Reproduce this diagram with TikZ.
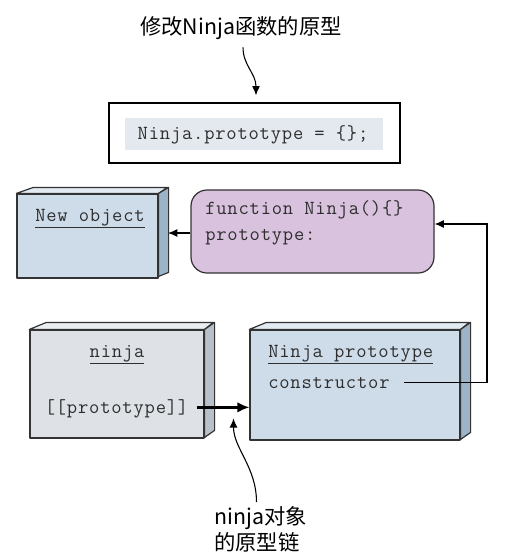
\documentclass[tikz,border=0pt]{standalone}
\usepackage{fontspec}
\setmonofont{Latin Modern Mono}[LetterSpace=4.0]
\newfontfamily\cjk{Noto Sans CJK SC}
\usetikzlibrary{arrows.meta,calc}
\definecolor{ink}{HTML}{333333}
\definecolor{txt}{HTML}{2E2E2E}
\definecolor{bluefront}{HTML}{CEDCE9}
\definecolor{bluetop}{HTML}{E2EAF2}
\definecolor{blueside}{HTML}{9DB3C8}
\definecolor{grayfront}{HTML}{DEE2E6}
\definecolor{graytop}{HTML}{EBEEF1}
\definecolor{grayside}{HTML}{B8C1CA}
\definecolor{purple}{HTML}{D9C2DE}
\definecolor{codebg}{HTML}{E4E9EF}
\tikzset{
  face/.style={draw=ink, line width=0.9pt, line join=round},
  front/.style={face, inner sep=0pt, minimum width=#1},
  mono/.style={font=\ttfamily\fontsize{15}{18}\selectfont, text=txt, inner sep=0pt},
  cjktext/.style={font=\cjk\fontsize{16}{20}\selectfont, text=black, inner sep=0pt},
  conn/.style={draw=black, line width=0.8pt, -{Latex[length=7pt,width=6pt]}},
}
\begin{document}
\begin{tikzpicture}[x=0.75pt,y=-0.75pt]
\useasboundingbox (0,0) rectangle (510,558);

% title and code box
\node[cjktext, anchor=base] (title) at (241,34) {修改Ninja函数的原型};
\node[draw=black, line width=1pt, minimum width=291*0.75pt, minimum height=60*0.75pt, inner sep=0pt] (code) at (254.5,133) {};
\node[fill=codebg, minimum width=258*0.75pt, minimum height=32*0.75pt, inner sep=0pt] (codebg) at (254,134) {};
\node[mono, anchor=base] (codetext) at (253,139) {Ninja.prototype = \{\};};
\draw[conn] ($(title.south)+(2,8)$) .. controls +(0,18) and +(0,-22) .. ($(code.north)+(1.5,-7)$);

% New object box
\node[front=141*0.75pt, minimum height=84*0.75pt, fill=bluefront] (newobj) at (87.5,236) {};
\draw[face, fill=bluetop] (newobj.north west) -- ++(17,-6) -- ++(134,0) -- (newobj.north east) -- cycle;
\draw[face, fill=blueside] (newobj.north east) -- ++(10,-6) -- ++(0,85) -- ++(-10,4) -- cycle;
\coordinate (newobjside) at (168,233);
\node[mono, anchor=base] (newobjlabel) at (90,221) {\underline{New object}};

% function box
\node[face, fill=purple, rounded corners=16*0.75pt, minimum width=243*0.75pt, minimum height=83*0.75pt, inner sep=0pt] (func) at (312.5,231.5) {};
\node[mono, anchor=base west] (funcline1) at (205,214) {function Ninja()\{\}};
\node[mono, anchor=base west] (funcline2) at (205,240) {prototype:};
\draw[conn] (func.west |- newobjside) -- (newobjside);

% ninja box
\node[front=174*0.75pt, minimum height=108*0.75pt, fill=grayfront] (ninja) at (117,384) {};
\draw[face, fill=graytop] (ninja.north west) -- ++(17,-7) -- ++(167,0) -- (ninja.north east) -- cycle;
\draw[face, fill=grayside] (ninja.north east) -- ++(10,-7) -- ++(0,108) -- ++(-10,7) -- cycle;
\node[mono, anchor=base] (ninjalabel) at (117,357) {\underline{ninja}};
\node[mono, anchor=base] (ptr) at (116.5,413) {[[prototype]]};

% Ninja prototype box
\node[front=210*0.75pt, minimum height=110*0.75pt, fill=bluefront] (proto) at (355,385) {};
\draw[face, fill=bluetop] (proto.north west) -- ++(17,-7) -- ++(203,0) -- (proto.north east) -- cycle;
\draw[face, fill=blueside] (proto.north east) -- ++(10,-7) -- ++(0,110) -- ++(-10,7) -- cycle;
\node[mono, anchor=base west] (protolabel) at (268,357) {\underline{Ninja prototype}};
\node[mono, anchor=base west] (ctor) at (268,388) {constructor};

% pointer arrow
\coordinate (ptrstart) at ($(ptr.east)+(8,-1)$);
\draw[line width=2.4pt, -{Latex[length=9pt,width=8pt]}] (ptrstart) -- (proto.west |- ptrstart);

% constructor link
\coordinate (cstart) at ($(ctor.east)+(14,0)$);
\coordinate (rtx) at (487,0);
\draw[conn] (cstart) -- (cstart -| rtx) |- ($(func.east)+(0,-7.5)$);

% bottom label
\node[cjktext, anchor=north west, align=left] (chain) at (214,506) {ninja对象\\的原型链};
\draw[conn] ($(chain.north)+(-4,-4)$) .. controls +(0,-35) and +(0,30) .. ($(ptr.east)+(45,10)$);
\end{tikzpicture}
\end{document}
